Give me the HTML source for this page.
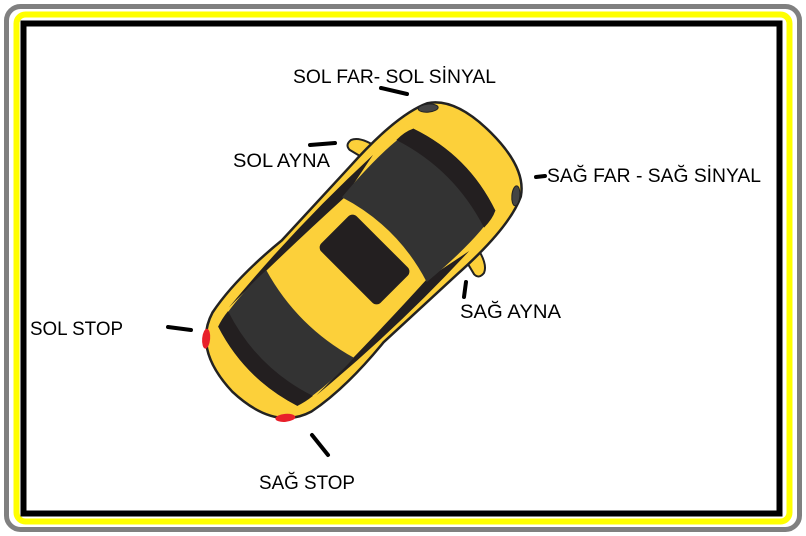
<!DOCTYPE html>
<html><head><meta charset="utf-8"><style>
html,body{margin:0;padding:0;background:#fff;width:806px;height:536px;overflow:hidden}
</style></head><body>
<svg width="806" height="536" viewBox="0 0 806 536" xmlns="http://www.w3.org/2000/svg">
<rect x="6.5" y="6.5" width="793" height="523" rx="14" fill="none" stroke="#808080" stroke-width="5"/>
<rect x="16.5" y="14.5" width="773" height="507" rx="9" fill="none" stroke="#ffff00" stroke-width="6"/>
<rect x="23.5" y="23.5" width="756" height="490" fill="#fff" stroke="#000" stroke-width="6"/>

<g transform="translate(361,263) rotate(-45)" stroke-linejoin="round">
  <path d="M78,-64 L72,-88 Q72,-95 80,-94 Q90,-90 94,-66 Z" fill="#fcd03a" stroke="#222" stroke-width="2"/>
  <path d="M78,64 L72,88 Q72,95 80,94 Q90,90 94,66 Z" fill="#fcd03a" stroke="#222" stroke-width="2"/>
  <path d="M-140,-70 Q-100,-78 -40,-72 L60,-76 Q130,-80 160,-66 Q184,-50 184,0 Q184,50 160,66 Q130,80 60,76 L-40,72 Q-100,78 -140,70 Q-180,58 -182,0 Q-180,-58 -140,-70 Z" fill="#fcd03a" stroke="#222" stroke-width="2.5"/>
  <path d="M-125,-62 Q-20,-72 85,-68 L35,-58 Q-50,-62 -125,-62 Z" fill="#231f20"/>
  <path d="M-125,62 Q-20,72 85,68 L35,58 Q-50,62 -125,62 Z" fill="#231f20"/>
  <path d="M33,-60 Q100,-66 132,-58 Q152,0 132,58 Q100,66 33,60 Q52,0 33,-60 Z" fill="#333"/>
  <path d="M112,-62 Q124,-62 132,-58 Q152,0 132,58 Q124,62 112,62 Q132,0 112,-62 Z" fill="#231f20"/>
  <path d="M-72,-62 Q-112,-64 -146,-56 Q-164,0 -146,56 Q-112,64 -72,62 Q-90,0 -72,-62 Z" fill="#333"/>
  <path d="M-128,-60 Q-138,-59 -146,-56 Q-164,0 -146,56 Q-138,59 -128,60 Q-148,0 -128,-60 Z" fill="#231f20"/>
  <rect x="-20" y="-42" width="50" height="84" rx="6" fill="#231f20"/>
  <ellipse cx="157" cy="-62" rx="10" ry="4" transform="rotate(40 157 -62)" fill="#444" stroke="#222"/>
  <ellipse cx="157" cy="62" rx="10" ry="4" transform="rotate(-40 157 62)" fill="#444" stroke="#222"/>
  <ellipse cx="-163" cy="-56" rx="10" ry="4" transform="rotate(-40 -163 -56)" fill="#e8202a"/>
  <ellipse cx="-163" cy="56" rx="10" ry="4" transform="rotate(40 -163 56)" fill="#e8202a"/>
</g>

<g stroke="#000" stroke-width="4" stroke-linecap="round">
  <line x1="381" y1="88" x2="407" y2="94"/>
  <line x1="310" y1="145" x2="335" y2="143"/>
  <line x1="536" y1="177" x2="545" y2="176"/>
  <line x1="466" y1="282" x2="464" y2="297"/>
  <line x1="168" y1="327" x2="191" y2="330"/>
  <line x1="312" y1="435" x2="328" y2="455"/>
</g>

<g font-family="Liberation Sans, sans-serif" font-size="19" fill="#000">
  <text x="293" y="83" textLength="203" lengthAdjust="spacingAndGlyphs">SOL FAR- SOL SİNYAL</text>
  <text x="233" y="167" textLength="97" lengthAdjust="spacingAndGlyphs">SOL AYNA</text>
  <text x="547" y="182" textLength="214" lengthAdjust="spacingAndGlyphs">SAĞ FAR - SAĞ SİNYAL</text>
  <text x="460" y="318" textLength="101" lengthAdjust="spacingAndGlyphs">SAĞ AYNA</text>
  <text x="30" y="335" textLength="93" lengthAdjust="spacingAndGlyphs">SOL STOP</text>
  <text x="259" y="489" textLength="96" lengthAdjust="spacingAndGlyphs">SAĞ STOP</text>
</g>
</svg>
</body></html>
